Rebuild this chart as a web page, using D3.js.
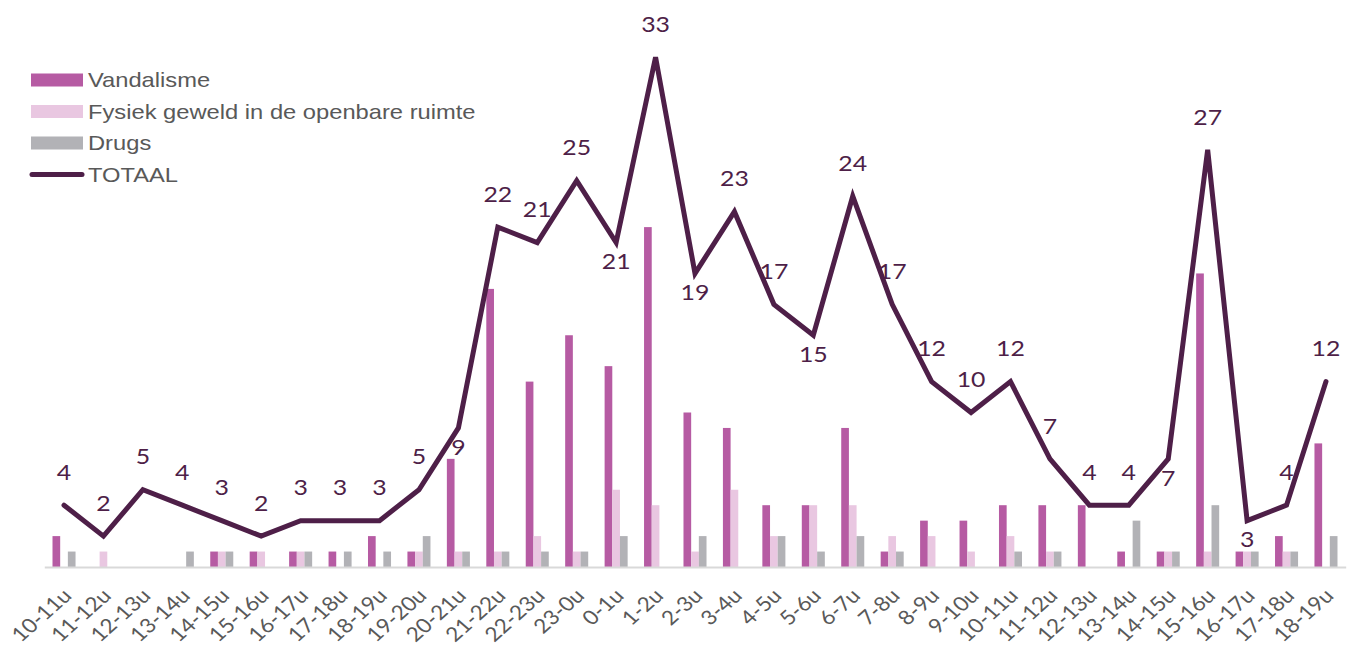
<!DOCTYPE html>
<html><head><meta charset="utf-8">
<script src="https://cdn.jsdelivr.net/npm/d3@7"></script>
<style>
html,body{margin:0;padding:0;background:#fff;}
svg{display:block;}
</style></head>
<body>
<svg id="chart" width="1349" height="650"></svg>
<script>
const categories = ["10-11u","11-12u","12-13u","13-14u","14-15u","15-16u","16-17u","17-18u","18-19u","19-20u","20-21u","21-22u","22-23u","23-0u","0-1u","1-2u","2-3u","3-4u","4-5u","5-6u","6-7u","7-8u","8-9u","9-10u","10-11u","11-12u","12-13u","13-14u","14-15u","15-16u","16-17u","17-18u","18-19u"];
const vandalisme = [2,0,0,0,1,1,1,1,2,1,7,18,12,15,13,22,10,9,4,4,9,1,3,3,4,4,4,1,1,19,1,2,8];
const fysiek     = [0,1,0,0,1,1,1,0,0,1,1,1,2,1,5,4,1,5,2,4,4,2,2,1,2,1,0,0,1,1,1,1,0];
const drugs      = [1,0,0,1,1,0,1,1,1,2,1,1,1,1,2,0,2,0,2,1,2,1,0,0,1,1,0,3,1,4,1,1,2];
const totaal     = [4,2,5,4,3,2,3,3,3,5,9,22,21,25,21,33,19,23,17,15,24,17,12,10,12,7,4,4,7,27,3,4,12];
const labelSide  = ["a","a","a","a","a","a","a","a","a","a","b","a","a","a","b","a","b","a","a","b","a","a","a","a","a","a","a","a","b","a","b","a","a"];
const seriesNames = ["Vandalisme","Fysiek geweld in de openbare ruimte","Drugs"];
const seriesColors = ["#b65ba3","#e9c7e1","#b2b2b6"];
const lineName = "TOTAAL";
const lineColor = "#4e1f48";

const svg = d3.select("#chart");
const numFont = "Lato, 'Open Sans', sans-serif";
const idx = d3.range(categories.length);

const x = d3.scaleBand().domain(idx).range([44.3, 1345.7]).paddingInner(0.416).paddingOuter(0.208);
const xs = d3.scaleBand().domain([0,1,2]).range([0, x.bandwidth()]);
const y = d3.scaleLinear().domain([0, 35]).range([567, 567 - 35*15.45]);

const seriesData = [vandalisme, fysiek, drugs];

// bars
seriesData.forEach((vals, s) => {
  svg.append("g").selectAll("rect").data(idx).join("rect")
    .attr("x", i => x(i) + xs(s))
    .attr("width", xs.bandwidth())
    .attr("y", i => y(vals[i]))
    .attr("height", i => y(0) - y(vals[i]))
    .attr("fill", seriesColors[s]);
});

// baseline axis
const axis = d3.axisBottom(x).tickSize(0).tickFormat(i => categories[i]);
const gx = svg.append("g").attr("transform", `translate(0,${y(0)})`).call(axis);
gx.select(".domain").attr("stroke", "#d9d9d9").attr("stroke-width", 2);
gx.selectAll(".tick text")
  .attr("font-family", numFont)
  .attr("font-size", 20)
  .attr("fill", "#595959")
  .attr("text-anchor", "end")
  .attr("dy", 0)
  .attr("y", 0)
  .attr("transform", "translate(9,30) scale(1.13,1) rotate(-45)");

// total line
const line = d3.line().x(i => x(i) + x.bandwidth()/2).y(i => y(totaal[i]));
svg.append("path").datum(idx).attr("d", line)
  .attr("fill", "none").attr("stroke", lineColor).attr("stroke-width", 5)
  .attr("stroke-linejoin", "miter").attr("stroke-linecap", "round");

// labels
svg.append("g").selectAll("text").data(idx).join("text")
  .attr("transform", i => `translate(${x(i) + x.bandwidth()/2},${y(totaal[i]) + (labelSide[i] === "a" ? -33 : 19)}) scale(1.13,1)`)
  .attr("dy", "0.35em")
  .attr("text-anchor", "middle")
  .attr("font-family", numFont)
  .attr("font-size", 22)
  .attr("fill", lineColor)
  .text(i => totaal[i]);

// legend
const lg = svg.append("g");
const rows = [80, 111.5, 143, 174.5];
const legFont = "'Liberation Sans', Arial, sans-serif";
seriesNames.forEach((n, s) => {
  lg.append("rect").attr("x", 31).attr("y", rows[s]-6.5).attr("width", 52).attr("height", 13).attr("fill", seriesColors[s]);
  lg.append("text").attr("transform", `translate(88,${rows[s]}) scale(1.13,1)`).attr("dy", "0.35em")
    .attr("font-family", legFont).attr("font-size", 21).attr("fill", "#595959").text(n);
});
lg.append("line").attr("x1", 32).attr("x2", 82).attr("y1", rows[3]).attr("y2", rows[3])
  .attr("stroke", lineColor).attr("stroke-width", 5).attr("stroke-linecap", "round");
lg.append("text").attr("transform", `translate(88,${rows[3]}) scale(1.13,1)`).attr("dy", "0.35em")
  .attr("font-family", legFont).attr("font-size", 21).attr("fill", "#595959").text(lineName);
</script>
</body></html>
